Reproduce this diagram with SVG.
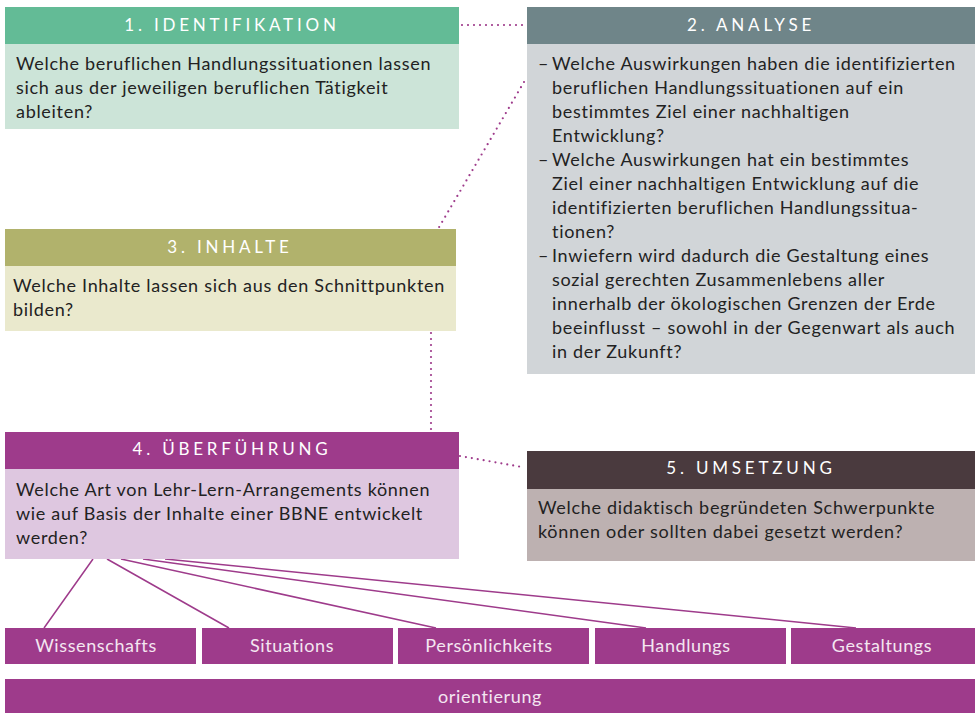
<svg xmlns="http://www.w3.org/2000/svg" width="975" height="713" viewBox="0 0 975 713">
<style>
.hd{font-family:Lato,"Noto Sans",sans-serif;font-size:17px;fill:#ffffff;letter-spacing:3.8px;text-anchor:middle}
.tx{font-family:Lato,"Noto Sans",sans-serif;font-size:18px;fill:#222222;letter-spacing:0.7px}
.lb{font-family:Lato,"Noto Sans",sans-serif;font-size:18px;fill:#f4e6f1;text-anchor:middle;letter-spacing:0.6px}
.dot{fill:none;stroke:#9e3b8b;stroke-width:2.2;stroke-linecap:round;stroke-dasharray:0 6}
.ln{fill:none;stroke:#9e3b8b;stroke-width:1.5}
.bb{fill:#9e3b8b}
</style>
<rect width="975" height="713" fill="#ffffff"/>
<g id="connectors">
<path class="dot" d="M462 25 L552 25"/>
<path class="dot" d="M524 82 L438 229"/>
<path class="dot" d="M431 333 L431 431"/>
<path class="dot" d="M460 456 L522 467"/>
<path class="ln" d="M93 559 L44 628 M107 559 L229 628 M121 559 L436 628 M143 559 L646 628 M165 559 L856 628"/>
</g>
<g id="n1">
<rect x="5" y="7" width="454" height="37" fill="#63bb96"/>
<rect x="5" y="44" width="454" height="85" fill="#cce4d8"/>
<text class="hd" x="232" y="31">1. IDENTIFIKATION</text>
<text class="tx" x="16" y="70">Welche beruflichen Handlungssituationen lassen</text>
<text class="tx" x="16" y="94">sich aus der jeweiligen beruflichen Tätigkeit</text>
<text class="tx" x="16" y="118">ableiten?</text>
</g>
<g id="n2">
<rect x="527" y="7" width="448" height="37" fill="#6f8589"/>
<rect x="527" y="44" width="448" height="330" fill="#d1d5d8"/>
<text class="hd" x="751" y="31">2. ANALYSE</text>
<text class="tx" x="538" y="70">–</text>
<text class="tx" x="552" y="70">Welche Auswirkungen haben die identifizierten</text>
<text class="tx" x="552" y="94">beruflichen Handlungssituationen auf ein</text>
<text class="tx" x="552" y="118">bestimmtes Ziel einer nachhaltigen</text>
<text class="tx" x="552" y="142">Entwicklung?</text>
<text class="tx" x="538" y="166">–</text>
<text class="tx" x="552" y="166">Welche Auswirkungen hat ein bestimmtes</text>
<text class="tx" x="552" y="190">Ziel einer nachhaltigen Entwicklung auf die</text>
<text class="tx" x="552" y="214">identifizierten beruflichen Handlungssitua-</text>
<text class="tx" x="552" y="238">tionen?</text>
<text class="tx" x="538" y="262">–</text>
<text class="tx" x="552" y="262">Inwiefern wird dadurch die Gestaltung eines</text>
<text class="tx" x="552" y="286">sozial gerechten Zusammenlebens aller</text>
<text class="tx" x="552" y="310">innerhalb der ökologischen Grenzen der Erde</text>
<text class="tx" x="552" y="334">beeinflusst – sowohl in der Gegenwart als auch</text>
<text class="tx" x="552" y="358">in der Zukunft?</text>
</g>
<g id="n3">
<rect x="5" y="229" width="451" height="37" fill="#b1b26c"/>
<rect x="5" y="266" width="451" height="65" fill="#eae9cd"/>
<text class="hd" x="230" y="253">3. INHALTE</text>
<text class="tx" x="13" y="292">Welche Inhalte lassen sich aus den Schnittpunkten</text>
<text class="tx" x="13" y="316">bilden?</text>
</g>
<g id="n4">
<rect x="5" y="432" width="454" height="37" fill="#9e3b8b"/>
<rect x="5" y="469" width="454" height="90" fill="#dec7e0"/>
<text class="hd" x="232" y="455">4. ÜBERFÜHRUNG</text>
<text class="tx" x="16" y="496">Welche Art von Lehr-Lern-Arrangements können</text>
<text class="tx" x="16" y="520">wie auf Basis der Inhalte einer BBNE entwickelt</text>
<text class="tx" x="16" y="544">werden?</text>
</g>
<g id="n5">
<rect x="527" y="451" width="448" height="38" fill="#4a3a3e"/>
<rect x="527" y="489" width="448" height="72" fill="#bdb1b1"/>
<text class="hd" x="751" y="474">5. UMSETZUNG</text>
<text class="tx" x="538" y="514">Welche didaktisch begründeten Schwerpunkte</text>
<text class="tx" x="538" y="538">können oder sollten dabei gesetzt werden?</text>
</g>
<g id="b1"><rect class="bb" x="5" y="628" width="191" height="36"/><text class="lb" x="96" y="652">Wissenschafts</text></g>
<g id="b2"><rect class="bb" x="202" y="628" width="191" height="36"/><text class="lb" x="292" y="652">Situations</text></g>
<g id="b3"><rect class="bb" x="398" y="628" width="191" height="36"/><text class="lb" x="489" y="652">Persönlichkeits</text></g>
<g id="b4"><rect class="bb" x="595" y="628" width="191" height="36"/><text class="lb" x="686" y="652">Handlungs</text></g>
<g id="b5"><rect class="bb" x="791" y="628" width="184" height="36"/><text class="lb" x="882" y="652">Gestaltungs</text></g>
<g id="b6"><rect class="bb" x="5" y="679" width="970" height="34"/><text class="lb" x="490" y="703">orientierung</text></g>
</svg>
